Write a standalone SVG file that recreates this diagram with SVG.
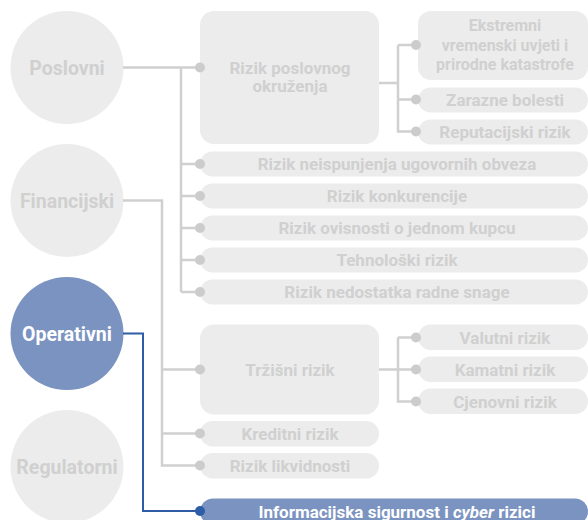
<svg xmlns="http://www.w3.org/2000/svg" width="588" height="520" viewBox="0 0 588 520">
<style>
.bg{fill:#ececec}
.hl{fill:#7b93c0}
.t{font-family:Roboto,"Liberation Sans",sans-serif;font-weight:700;fill:#d0d0d0;text-anchor:middle;font-size:17px}
.c{font-size:19.5px}
.s{font-size:16px}
.w{fill:#ffffff}
.ln{fill:none;stroke:#d0d0d0;stroke-width:2.5}
.lb{fill:none;stroke:#2f5ca6;stroke-width:2}
.d{fill:#cccccc}
.db{fill:#2f5ca6}
</style>
<g id="nodes">
<g id="poslovni"><circle class="bg" cx="67" cy="67.5" r="56.5"/><text class="t c" x="67" y="74.5">Poslovni</text></g>
<g id="financijski"><circle class="bg" cx="67" cy="200.5" r="56.5"/><text class="t c" x="67" y="207.5">Financijski</text></g>
<g id="operativni"><circle class="hl" cx="67" cy="333.5" r="56.5"/><text class="t c w" x="67" y="340.5">Operativni</text></g>
<g id="regulatorni"><circle class="bg" cx="67" cy="466.5" r="56.5"/><text class="t c" x="67" y="473.5">Regulatorni</text></g>

<g id="rizik-poslovnog"><rect class="bg" x="200" y="11" width="179" height="133" rx="14"/><text class="t" x="290" y="74">Rizik poslovnog</text><text class="t" x="290" y="92">okruženja</text></g>
<g id="ekstremni"><rect class="bg" x="418" y="11" width="170" height="69" rx="13"/><text class="t s" x="505" y="31">Ekstremni</text><text class="t s" x="505" y="50.5">vremenski uvjeti i</text><text class="t s" x="505" y="70">prirodne katastrofe</text></g>
<g id="zarazne"><rect class="bg" x="418" y="87.5" width="170" height="25" rx="12.5"/><text class="t" x="505" y="106">Zarazne bolesti</text></g>
<g id="reputacijski"><rect class="bg" x="418" y="119.5" width="170" height="25" rx="12.5"/><text class="t" x="505" y="138">Reputacijski rizik</text></g>

<g id="ugovorne"><rect class="bg" x="200" y="151.5" width="388" height="25" rx="12.5"/><text class="t" x="397" y="170">Rizik neispunjenja ugovornih obveza</text></g>
<g id="konkurencija"><rect class="bg" x="200" y="183.5" width="388" height="25" rx="12.5"/><text class="t" x="397" y="202">Rizik konkurencije</text></g>
<g id="kupac"><rect class="bg" x="200" y="215.5" width="388" height="25" rx="12.5"/><text class="t" x="397" y="234">Rizik ovisnosti o jednom kupcu</text></g>
<g id="tehnoloski"><rect class="bg" x="200" y="247.5" width="388" height="25" rx="12.5"/><text class="t" x="397" y="266">Tehnološki rizik</text></g>
<g id="radna-snaga"><rect class="bg" x="200" y="279.5" width="388" height="25" rx="12.5"/><text class="t" x="397" y="298">Rizik nedostatka radne snage</text></g>

<g id="trzisni"><rect class="bg" x="200" y="324.5" width="179" height="90" rx="14"/><text class="t" x="290" y="375.5">Tržišni rizik</text></g>
<g id="valutni"><rect class="bg" x="418" y="324.5" width="170" height="25.5" rx="12.5"/><text class="t" x="505" y="343.5">Valutni rizik</text></g>
<g id="kamatni"><rect class="bg" x="418" y="356.5" width="170" height="25.5" rx="12.5"/><text class="t" x="505" y="375.5">Kamatni rizik</text></g>
<g id="cjenovni"><rect class="bg" x="418" y="388.5" width="170" height="25.5" rx="12.5"/><text class="t" x="505" y="407.5">Cjenovni rizik</text></g>
<g id="kreditni"><rect class="bg" x="200" y="421" width="179" height="25.5" rx="12.5"/><text class="t" x="290" y="440">Kreditni rizik</text></g>
<g id="likvidnost"><rect class="bg" x="200" y="453" width="179" height="25.5" rx="12.5"/><text class="t" x="290" y="472">Rizik likvidnosti</text></g>

<g id="informacijska"><rect class="hl" x="200" y="498.5" width="388" height="26" rx="13"/><text class="t w" x="397" y="517.5">Informacijska sigurnost i <tspan font-style="italic">cyber</tspan> rizici</text></g>
</g>
<g id="connectors">
<path class="ln" d="M123 67.5H200M181 67.5V292M181 164H200M181 196H200M181 228H200M181 260H200M181 292H200"/>
<path class="ln" d="M123 200.5H162V465.5H200M162 369.5H200M162 433.5H200"/>
<path class="ln" d="M379 83H398M398 45V131.5H416M398 45H416M398 99.5H416"/>
<path class="ln" d="M379 369.5H398M398 337.5V401.5H416M398 337.5H416M398 369.5H416"/>
<path class="lb" d="M123 333.5H143V511H200"/>
<g class="d">
<circle cx="200" cy="67.5" r="5"/><circle cx="200" cy="164" r="5"/><circle cx="200" cy="196" r="5"/><circle cx="200" cy="228" r="5"/><circle cx="200" cy="260" r="5"/><circle cx="200" cy="292" r="5"/>
<circle cx="200" cy="369.5" r="5"/><circle cx="200" cy="433.5" r="5"/><circle cx="200" cy="465.5" r="5"/>
<circle cx="416" cy="45" r="5"/><circle cx="416" cy="99.5" r="5"/><circle cx="416" cy="131.5" r="5"/>
<circle cx="416" cy="337.5" r="5"/><circle cx="416" cy="369.5" r="5"/><circle cx="416" cy="401.5" r="5"/>
</g>
<circle class="db" cx="200" cy="511" r="5"/>
</g>
</svg>
